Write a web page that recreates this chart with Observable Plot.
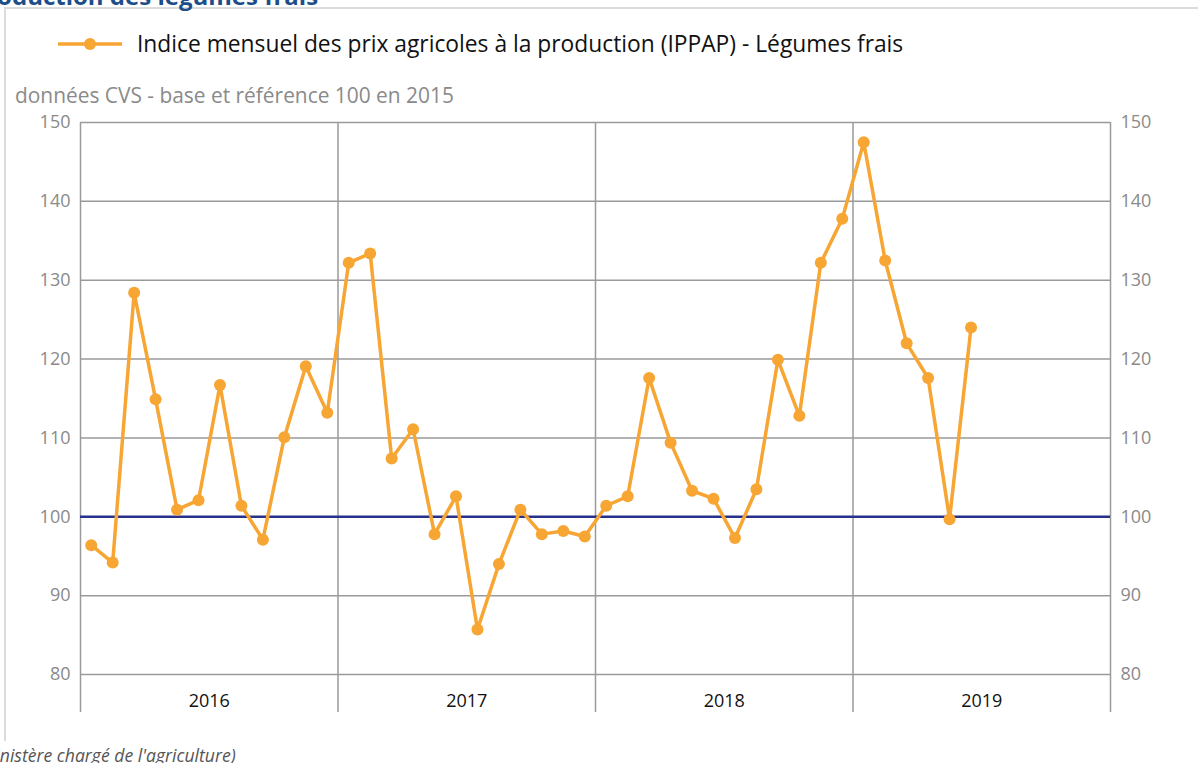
<!DOCTYPE html>
<html>
<head>
<meta charset="utf-8">
<script src="https://cdn.jsdelivr.net/npm/d3@7"></script>
<script src="https://cdn.jsdelivr.net/npm/@observablehq/plot@0.6"></script>
<style>
  html, body { margin: 0; padding: 0; background: #fff; width: 1198px; height: 763px; overflow: hidden; font-family: "Open Sans", sans-serif; }
  #wrap { position: relative; width: 1198px; height: 763px; overflow: hidden; }
  #panel { position: absolute; left: 4px; top: 7px; width: 1300px; height: 734px; border-left: 2px solid #dcdcdc; border-top: 2px solid #dcdcdc; box-sizing: border-box; }
  #title { position: absolute; left: -29px; top: -16px; font-size: 24px; line-height: 24px; font-weight: 700; color: #1d4e89; white-space: nowrap; }
  #legend { position: absolute; left: 58px; top: 28px; display: flex; align-items: center; white-space: nowrap; }
  #legend span { font-size: 22.8px; color: #111; margin-left: 15px; }
  #subtitle { position: absolute; left: 15px; top: 81px; font-size: 20.9px; color: #8a8a8a; white-space: nowrap; }
  #caption { position: absolute; left: -20px; top: 743px; font-size: 17.6px; font-style: italic; color: #555; white-space: nowrap; }
  #chart { position: absolute; left: 0; top: 0; }
</style>
</head>
<body>
<div id="wrap">
  <div id="panel"></div>
  <div id="title">production des légumes frais</div>
  <div id="chart"></div>
  <div id="legend">
    <svg width="64" height="30"><line x1="0" y1="15" x2="64" y2="15" stroke="#f7a533" stroke-width="3.5"/><circle cx="32" cy="15" r="6" fill="#f7a533"/></svg>
    <span>Indice mensuel des prix agricoles à la production (IPPAP) - Légumes frais</span>
  </div>
  <div id="subtitle">données CVS - base et référence 100 en 2015</div>
  <div id="caption">ministère chargé de l'agriculture)</div>
</div>
<script>
const years = [2016, 2017, 2018, 2019];
const values2016 = [96.4, 94.2, 128.4, 114.9, 100.9, 102.1, 116.7, 101.4, 97.1, 110.1, 119.1, 113.2];
const values2017 = [132.2, 133.4, 107.4, 111.1, 97.8, 102.6, 85.7, 94.0, 100.9, 97.8, 98.2, 97.5];
const values2018 = [101.4, 102.6, 117.6, 109.4, 103.3, 102.3, 97.3, 103.5, 119.9, 112.8, 132.2, 137.8];
const values2019 = [147.5, 132.5, 122.0, 117.6, 99.7, 124.0];
const yTicks = [80, 90, 100, 110, 120, 130, 140, 150];
const reference = 100;

const series = [values2016, values2017, values2018, values2019];
const data = [];
series.forEach((vals, yi) => vals.forEach((v, m) => data.push({t: yi * 12 + m, year: years[yi], value: v})));

const yearBounds = years.map((y, i) => i * 12 - 0.5).concat([years.length * 12 - 0.5]);
const yearCenters = years.map((y, i) => i * 12 + 5.5);

const orange = "#f7a533";
const grid = "#9a9a9a";

const chart = Plot.plot({
  width: 1198,
  height: 763,
  marginLeft: 80,
  marginRight: 88,
  marginTop: 122,
  marginBottom: 89,
  style: { fontFamily: "Open Sans, sans-serif", background: "transparent" },
  x: { type: "linear", domain: [yearBounds[0], yearBounds[yearBounds.length - 1]] },
  y: { domain: [80, 150] },
  marks: [
    Plot.ruleY(yTicks, { stroke: grid, strokeWidth: 1.5 }),
    Plot.ruleX(yearBounds, { stroke: grid, strokeWidth: 1.5 }),
    Plot.axisX(yearBounds, { tickSize: 38, stroke: grid, strokeWidth: 1.5, text: null, label: null }),
    Plot.axisX(yearCenters, { tickSize: 0, tickPadding: 20, tickFormat: (d) => String(years[Math.round((d - 5.5) / 12)]), fontSize: 18, fill: "#111", label: null }),
    Plot.axisY(yTicks, { anchor: "left", tickSize: 0, tickPadding: 10, fontSize: 18, fill: "#8a8a8a", label: null }),
    Plot.axisY(yTicks, { anchor: "right", tickSize: 0, tickPadding: 10, fontSize: 18, fill: "#8a8a8a", label: null }),
    Plot.ruleY([reference], { stroke: "#27308a", strokeWidth: 2.5 }),
    Plot.line(data, { x: "t", y: "value", stroke: orange, strokeWidth: 3.5 }),
    Plot.dot(data, { x: "t", y: "value", fill: orange, r: 6 })
  ]
});
document.getElementById("chart").appendChild(chart);
</script>
</body>
</html>
